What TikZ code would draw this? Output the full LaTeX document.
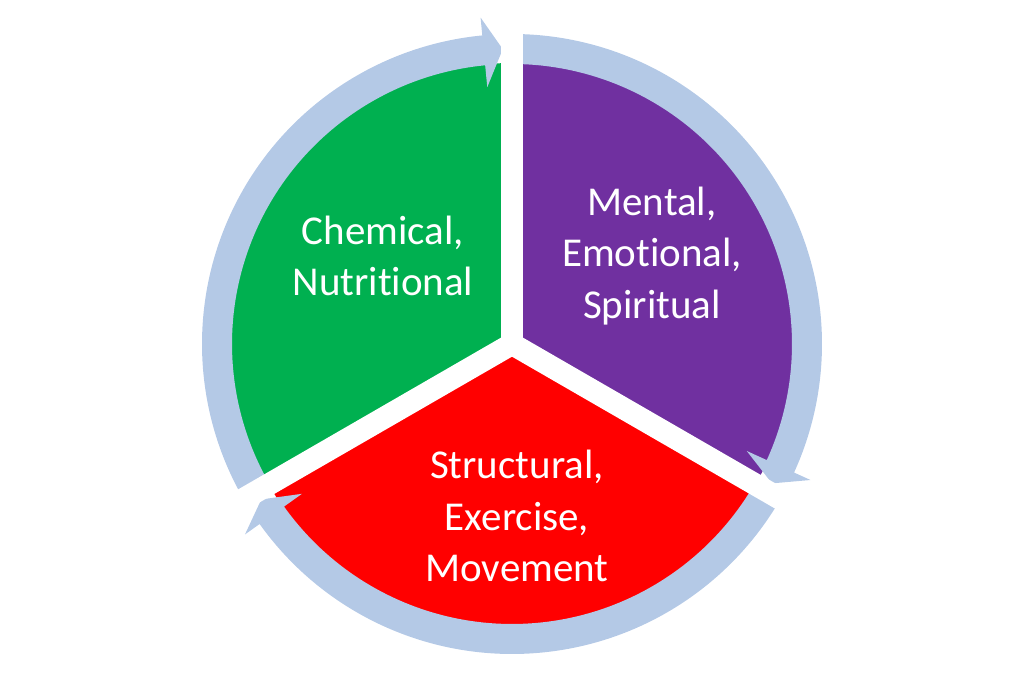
\documentclass[tikz,border=0pt]{standalone}
\usepackage{fontspec}
\setmainfont{Carlito}[Ligatures={NoCommon}]
\begin{document}
\begin{tikzpicture}[x=0.03cm,y=0.03cm,
  lab/.style={text=white,align=center,font=\fontsize{35}{44}\selectfont}]
\definecolor{ringc}{HTML}{B4C9E6}
\definecolor{gr}{HTML}{00B050}
\definecolor{pu}{HTML}{7030A0}
\definecolor{re}{HTML}{FF0000}
\useasboundingbox (0,0) rectangle (1024,682);
\begin{scope}[shift={(512,338)}]
\coordinate (c) at (0,0);
\fill[gr] (c) -- (210:281) arc (210:90:281) -- cycle;
\fill[pu] (c) -- (90:281) arc (90:-30:281) -- cycle;
\fill[re] (c) -- (-30:281) arc (-30:-150:281) -- cycle;
\foreach \s in {210,90,-30}{
  \pgfmathsetmacro{\e}{\s-120}
  \pgfmathsetmacro{\h}{\s-114.5}
  \fill[ringc] (\s:310) arc (\s:\h:310) -- (\h:328) -- (\e+1.8:295) -- (\h:258) -- (\h:280) arc (\h:\s:280) -- cycle;
}
\foreach \a/\n in {90/g1,210/g2,-30/g3}{
  \coordinate (\n) at (\a:345);
  \draw[white,line width=22*0.03cm] (c) -- (\n);
}
\node[lab] (t1) at (-129,88) {Chemical,\\Nutritional};
\node[lab] (t2) at (140,88) {Mental,\\Emotional,\\Spiritual};
\node[lab] (t3) at (5,-172) {Structural,\\Exercise,\\Movement};
\end{scope}
\end{tikzpicture}
\end{document}
